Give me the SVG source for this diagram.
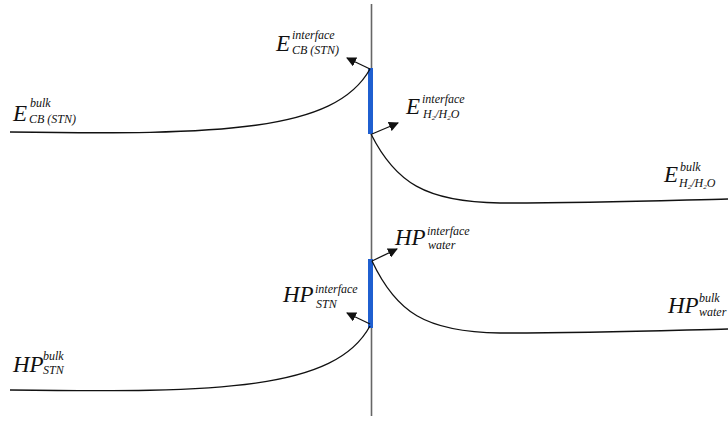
<svg xmlns="http://www.w3.org/2000/svg" width="728" height="423" viewBox="0 0 728 423">
<style>
.main{font-family:"Liberation Serif","DejaVu Serif",serif;font-style:italic;font-size:23px;fill:#111}
.sm{font-family:"Liberation Serif","DejaVu Serif",serif;font-style:italic;font-size:12px;fill:#111}
.tiny{font-family:"Liberation Serif","DejaVu Serif",serif;font-style:italic;font-size:7px;fill:#111}
.curve{fill:none;stroke:#111;stroke-width:1.3}
.arrow{fill:none;stroke:#111;stroke-width:1.3;marker-end:url(#ah)}
.bar{stroke:#1f5fd0;stroke-width:5}
</style>
<defs>
<marker id="ah" viewBox="0 0 10 10" refX="9" refY="5" markerWidth="10" markerHeight="10" markerUnits="userSpaceOnUse" orient="auto">
<path d="M0,0 L10,5 L0,10 z" fill="#111"/>
</marker>
</defs>
<rect width="728" height="423" fill="#fff"/>
<g id="axis">
<line x1="371.5" y1="4" x2="371.5" y2="416" stroke="#666" stroke-width="1.6"/>
</g>
<g id="bars">
<line class="bar" x1="370.5" y1="68" x2="370.5" y2="134"/>
<line class="bar" x1="370.5" y1="259" x2="370.5" y2="328"/>
</g>
<g id="connectors">
<path class="curve" d="M10,132 C220,135 335,132 370,69"/>
<path class="curve" d="M371,134 C395,182 425,202 500,203 C600,203 680,200 728,199"/>
<path class="curve" d="M372,261 C396,312 425,332 500,333 C600,333 680,330 728,329"/>
<path class="curve" d="M10,390 C220,393 335,390 370,326"/>
<line class="arrow" x1="370" y1="69" x2="347" y2="58"/>
<line class="arrow" x1="372" y1="134" x2="398" y2="123"/>
<line class="arrow" x1="372" y1="261" x2="397" y2="249"/>
<line class="arrow" x1="370" y1="324" x2="347" y2="313"/>
</g>
<g id="E_CB_interface">
<text class="main" x="276" y="51">E</text>
<text class="sm" x="292" y="39">interface</text>
<text class="sm" x="292" y="54">CB (STN)</text>
</g>
<g id="E_H2_interface">
<text class="main" x="406" y="114">E</text>
<text class="sm" x="422" y="103">interface</text>
<text class="sm" x="423" y="118">H<tspan class="tiny" dy="2">2</tspan><tspan dy="-2">/H</tspan><tspan class="tiny" dy="2">2</tspan><tspan dy="-2">O</tspan></text>
</g>
<g id="E_CB_bulk">
<text class="main" x="13" y="121">E</text>
<text class="sm" x="30" y="107">bulk</text>
<text class="sm" x="29" y="123">CB (STN)</text>
</g>
<g id="E_H2_bulk">
<text class="main" x="664" y="182">E</text>
<text class="sm" x="680" y="171">bulk</text>
<text class="sm" x="679" y="187">H<tspan class="tiny" dy="2">2</tspan><tspan dy="-2">/H</tspan><tspan class="tiny" dy="2">2</tspan><tspan dy="-2">O</tspan></text>
</g>
<g id="HP_water_interface">
<text class="main" x="395" y="245">HP</text>
<text class="sm" x="427" y="235">interface</text>
<text class="sm" x="428" y="249">water</text>
</g>
<g id="HP_STN_interface">
<text class="main" x="283" y="302">HP</text>
<text class="sm" x="315" y="293">interface</text>
<text class="sm" x="316" y="308">STN</text>
</g>
<g id="HP_water_bulk">
<text class="main" x="668" y="313">HP</text>
<text class="sm" x="699" y="302">bulk</text>
<text class="sm" x="699" y="316">water</text>
</g>
<g id="HP_STN_bulk">
<text class="main" x="13" y="372">HP</text>
<text class="sm" x="43" y="360">bulk</text>
<text class="sm" x="43" y="374">STN</text>
</g>
</svg>
